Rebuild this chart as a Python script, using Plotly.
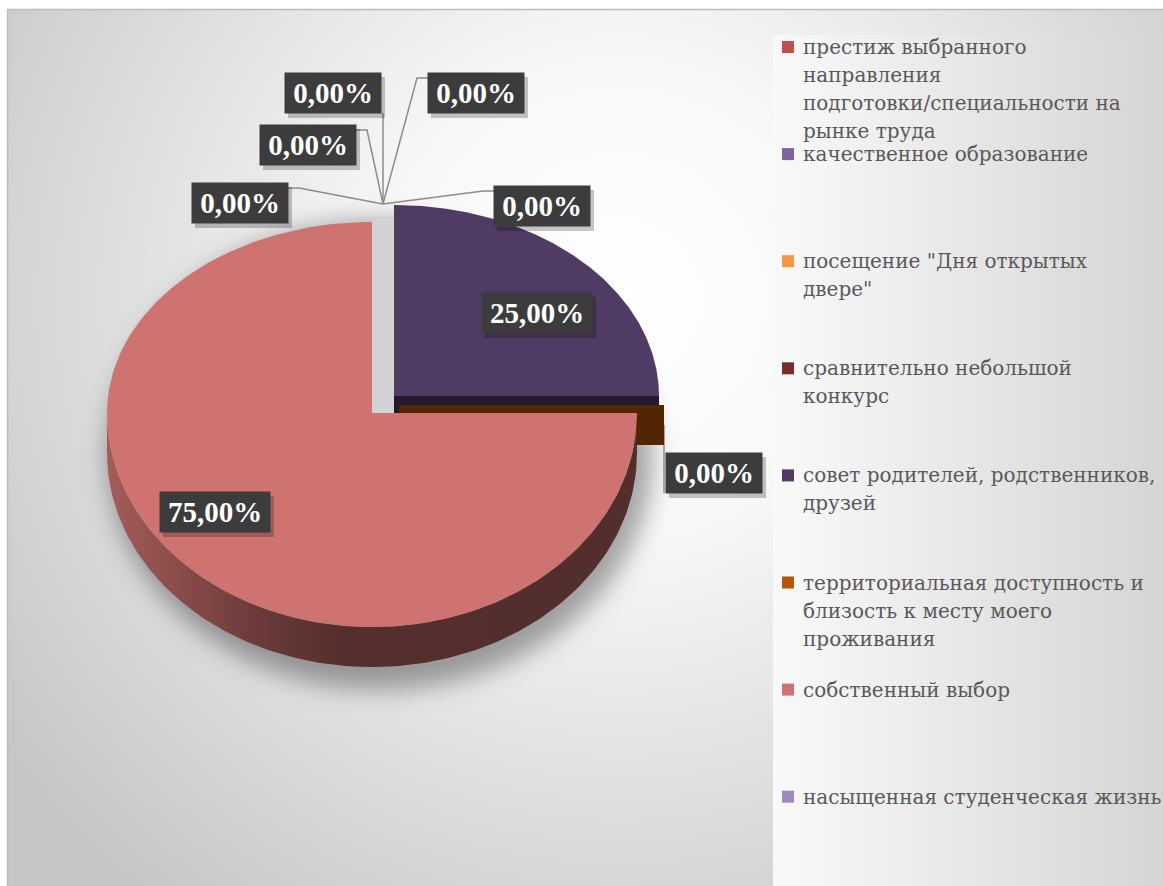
import base64
import numpy as np
import plotly.graph_objects as go

# ---------------- data ----------------
categories = [
    "престиж выбранного направления подготовки/специальности на рынке труда",
    "качественное образование",
    "посещение \"Дня открытых двере\"",
    "сравнительно небольшой конкурс",
    "совет родителей, родственников, друзей",
    "территориальная доступность и близость к месту моего проживания",
    "собственный выбор",
    "насыщенная студенческая жизнь",
]
shares = [0, 0, 0, 0, 25, 0, 75, 0]
legend_labels = [
    "престиж выбранного<br>направления<br>подготовки/специальности на<br>рынке труда",
    "качественное образование",
    "посещение \"Дня открытых<br>двере\"",
    "сравнительно небольшой<br>конкурс",
    "совет родителей, родственников,<br>друзей",
    "территориальная доступность и<br>близость к месту моего<br>проживания",
    "собственный выбор",
    "насыщенная студенческая жизнь",
]
colors = ["#c0504d", "#8064a2", "#f79646", "#772c2a",
          "#4f3b64", "#b65708", "#cf7370", "#9f8ac0"]

# ---------------- style / geometry ----------------
W, H = 1163, 886
CX, CY = 372, 413
RX, RY_BACK, RY_FRONT, DEPTH = 265, 191, 214, 40
EXPLODE = [(11, -18), (11, -18), (11, -18), (11, -18),
           (22, -17), (27, -8), (0, 0), (11, -18)]
LABEL_POS = [(542, 206), (476, 93), (333, 93), (308, 145),
             (537, 313), (714, 473), (215, 512), (240, 203)]
LEG_X, LEG_Y0, LEG_STEP, LEG_LINE = 788, 47, 107.1, 28


def darken(hexc, f):
    h = hexc.lstrip("#")
    r, g, b = (int(h[i:i + 2], 16) for i in (0, 2, 4))
    return "#%02x%02x%02x" % (int(r * f), int(g * f), int(b * f))


def rim(t, ox, oy, dz=0.0):
    t = np.asarray(t, dtype=float)
    c, s = np.cos(t), np.sin(t)
    ry = np.where(c >= 0, RY_BACK, RY_FRONT)
    return CX + ox + RX * s, CY + oy - ry * c + dz


total = float(sum(shares))
cum = np.concatenate([[0.0], np.cumsum(shares)]) / total * 2 * np.pi
starts, ends = cum[:-1], cum[1:]

fig = go.Figure()

# draw back slices first
order = sorted(range(len(shares)),
               key=lambda i: -np.cos((starts[i] + ends[i]) / 2))
for i in order:
    t0, t1 = starts[i], ends[i]
    ox, oy = EXPLODE[i]
    ax, ay = CX + ox, CY + oy
    col = colors[i]
    # outer side wall (front half only)
    a, b = max(t0, np.pi / 2), min(t1, 3 * np.pi / 2)
    if b > a + 1e-9:
        tt = np.linspace(a, b, 160)
        xt, yt = rim(tt, ox, oy)
        xb, yb = rim(tt[::-1], ox, oy, DEPTH)
        fig.add_trace(go.Scatter(
            x=np.concatenate([xt, xb, xt[:1]]), y=np.concatenate([yt, yb, yt[:1]]),
            mode="lines", fill="toself", line=dict(width=0),
            fillgradient=dict(type="horizontal", colorscale=[
                [0, darken(col, 0.8)], [0.3, darken(col, 0.5)],
                [0.45, darken(col, 0.41)], [1, darken(col, 0.4)]]),
            hoverinfo="skip", showlegend=False))
    # radial cut faces facing the viewer
    for t, vis in ((t0, np.sin(t0) < -1e-9), (t1, np.sin(t1) > 1e-9)):
        if vis:
            rx_, ry_ = rim(t, ox, oy)
            fig.add_trace(go.Scatter(
                x=[ax, float(rx_), float(rx_), ax, ax],
                y=[ay, float(ry_), float(ry_) + DEPTH, ay + DEPTH, ay],
                mode="lines", fill="toself", line=dict(width=0),
                fillcolor=darken(col, 0.45), hoverinfo="skip", showlegend=False))
    # top face
    if t1 > t0 + 1e-9:
        tt = np.linspace(t0, t1, 240)
        xt, yt = rim(tt, ox, oy)
        fig.add_trace(go.Scatter(
            x=np.concatenate([[ax], xt, [ax]]), y=np.concatenate([[ay], yt, [ay]]),
            mode="lines", fill="toself", line=dict(width=0), fillcolor=col,
            name=categories[i], hoverinfo="name", showlegend=False))

# legend squares
leg_y = [LEG_Y0 + LEG_STEP * k for k in range(len(categories))]
fig.add_trace(go.Scatter(
    x=[LEG_X] * len(categories), y=leg_y, mode="markers",
    marker=dict(symbol="square", size=12, color=colors, line=dict(width=0)),
    hovertext=categories, hoverinfo="text", showlegend=False))

annotations = []
shapes = []
for k, lab in enumerate(legend_labels):
    for j, line in enumerate(lab.split("<br>")):
        annotations.append(dict(
            x=LEG_X + 13, y=leg_y[k] + LEG_LINE * j, xref="x", yref="y",
            xanchor="left", yanchor="middle", text=line, showarrow=False, align="left",
            font=dict(family="DejaVu Serif", size=20, color="#595959")))

# data labels + leader lines
BOX_H = 40
for i, v in enumerate(shares):
    pct = v / total * 100
    txt = f"{pct:.2f}".replace(".", ",") + "%"
    lx, ly = LABEL_POS[i]
    bw = 96 if pct < 10 else 110
    # soft drop shadow under the label box
    shapes.append(dict(type="rect", xref="x", yref="y", layer="above",
                       x0=lx - bw / 2 + 3, x1=lx + bw / 2 + 4,
                       y0=ly - BOX_H / 2 + 4, y1=ly + BOX_H / 2 + 5,
                       fillcolor="rgba(0,0,0,0.22)", line=dict(width=0)))
    annotations.append(dict(
        x=lx, y=ly, xref="x", yref="y", text=txt, showarrow=False,
        width=bw - 4, height=BOX_H - 4, borderpad=2, bgcolor="#3c3c3c",
        font=dict(family="Liberation Serif", size=29, color="white", weight="bold")))
    if v == 0:
        ox, oy = EXPLODE[i]
        t = starts[i]
        px, py = rim(t, ox, oy)
        px, py = float(px), float(py)
        if abs(np.sin(t)) > 0.5:
            py += DEPTH / 2
        left, right = lx - bw / 2, lx + bw / 2
        if left - 5 <= px <= right + 5:
            path = f"M {px},{ly + BOX_H / 2} L {px},{py}"
        elif px > right:
            ey = ly - 15
            ex = right + min(11, px - right)
            path = f"M {right},{ey} L {ex},{ey} L {px},{py}"
        else:
            ey = ly - 15
            ex = left - min(11, left - px)
            path = f"M {left},{ey} L {ex},{ey} L {px},{py}"
        shapes.append(dict(type="path", path=path, xref="x", yref="y",
                           line=dict(color="#8c8c8c", width=1.5), layer="below"))

# gray gap shadow between exploded slices
ox4, oy4 = EXPLODE[4]
shapes.append(dict(type="rect", xref="x", yref="y", layer="below",
                   x0=CX, x1=CX + ox4, y0=CY + oy4 - RY_BACK + 12, y1=CY,
                   fillcolor="#d2d2d2", line=dict(width=0)))

# background (chart area gradients + pie shadow) as an SVG image
svg = f'''<svg xmlns="http://www.w3.org/2000/svg" width="{W}" height="{H}" viewBox="0 0 {W} {H}" preserveAspectRatio="none">
<defs>
<radialGradient id="bg" gradientUnits="userSpaceOnUse" cx="620" cy="300" r="760">
<stop offset="0" stop-color="#ffffff"/>
<stop offset="0.3" stop-color="#f8f8f8"/>
<stop offset="1" stop-color="#c6c6c6"/>
</radialGradient>
<linearGradient id="lg" x1="0" y1="0" x2="1" y2="0">
<stop offset="0" stop-color="#f9f9f9"/>
<stop offset="1" stop-color="#d4d4d4"/>
</linearGradient>
<filter id="bl" x="-30%" y="-30%" width="160%" height="160%"><feGaussianBlur stdDeviation="12"/></filter>
</defs>
<rect x="0" y="0" width="{W}" height="{H}" fill="#ffffff"/>
<rect x="7.5" y="9.5" width="{W}" height="{H}" fill="url(#bg)" stroke="#bdbdbd" stroke-width="1.5"/>
<rect x="773" y="35" width="400" height="860" fill="url(#lg)"/>
<ellipse cx="{CX + 8}" cy="{CY + 42}" rx="{RX + 8}" ry="{(RY_BACK + RY_FRONT) / 2 + 32}" fill="#000" fill-opacity="0.34" filter="url(#bl)"/>
</svg>'''
src = "data:image/svg+xml;base64," + base64.b64encode(svg.encode("utf-8")).decode()

fig.update_layout(
    width=W, height=H, margin=dict(l=0, r=0, t=0, b=0),
    paper_bgcolor="white", plot_bgcolor="rgba(0,0,0,0)",
    xaxis=dict(range=[0, W], visible=False, fixedrange=True),
    yaxis=dict(range=[H, 0], visible=False, fixedrange=True),
    annotations=annotations, shapes=shapes, showlegend=False,
    images=[dict(source=src, xref="paper", yref="paper", x=0, y=1, sizex=1, sizey=1,
                 xanchor="left", yanchor="top", sizing="stretch", layer="below")],
)

fig.write_html("out.html")
